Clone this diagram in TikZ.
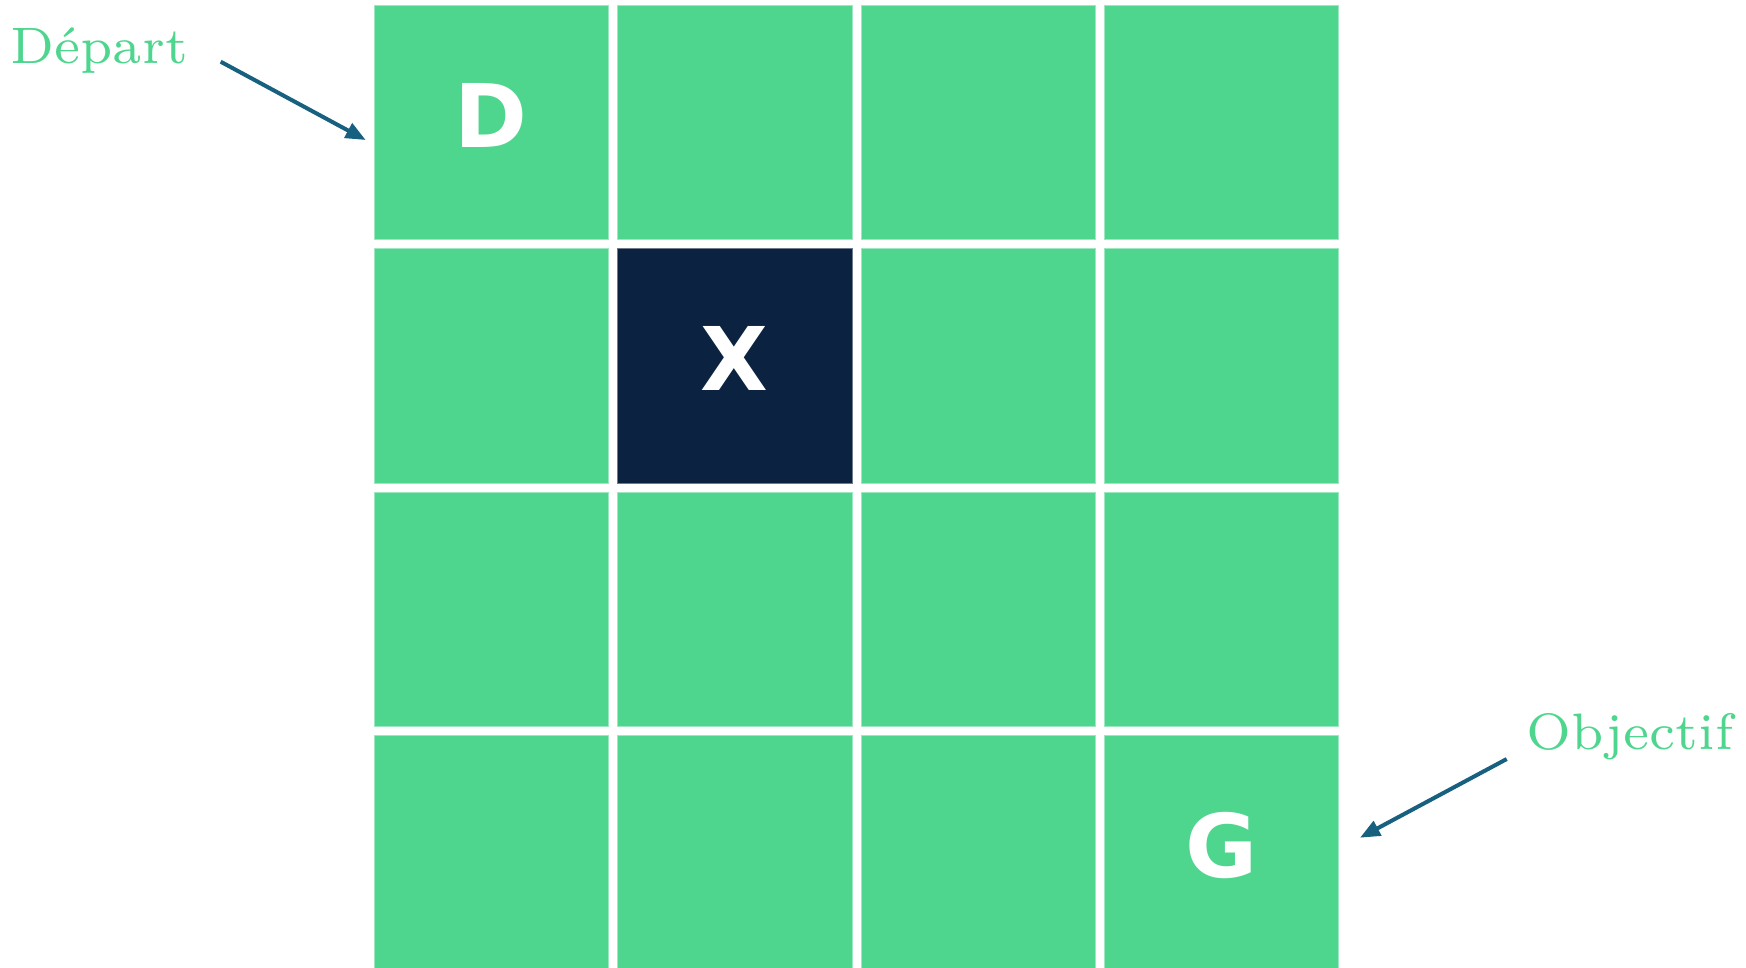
\documentclass[tikz,border=0pt]{standalone}
\usepackage{fontspec}
\newfontfamily\cellfont{DejaVu Sans}
\usepackage{tikz}
\usetikzlibrary{arrows.meta}

\definecolor{cellgreen}{HTML}{4FD68E}
\definecolor{wallnavy}{HTML}{0B2341}
\definecolor{arrowblue}{HTML}{17607F}

\begin{document}
\begin{tikzpicture}[
  x=0.02cm, y=-0.02cm,
  cell/.style   ={draw=cellgreen!55!white, line width=0.4pt, fill=cellgreen,
                  minimum size=4.69cm, inner sep=0pt, outer sep=0pt},
  wall/.style   ={cell, draw=wallnavy!60!white, fill=wallnavy},
  letter/.style ={text=white, font=\cellfont\bfseries\fontsize{50}{60}\selectfont,
                  yshift=0.14cm},
  lbl/.style    ={text=cellgreen, font=\fontsize{7}{8}\selectfont,
                  inner sep=0pt, scale=4.17, transform shape},
  arr/.style    ={-{Triangle[length=0.4cm, width=0.32cm]}, line width=0.08cm,
                  draw=arrowblue},
]
  \clip (0,0) rectangle (1746,967);

  % 4x4 grid
  \foreach \r in {0,...,3}
    \foreach \c in {0,...,3}
      \node[cell] (c-\r-\c) at ({491.3+243.4*\c}, {122.3+243.4*\r}) {};

  \node[wall]   (wall)  at (c-1-1) {};
  \node[letter] (start) at (c-0-0) {D};
  \node[letter] (block) at (wall)  {X};
  \node[letter] (goal)  at (c-3-3) {G};

  \node[lbl, anchor=base west] (depart)   at (9,63.3)  {Départ};
  \node[lbl, anchor=base west] (objectif) at (1525,749) {Objectif};

  \coordinate (depart-tail)   at (220.7,61.7);
  \coordinate (depart-tip)    at (365.7,140);
  \coordinate (objectif-tail) at (1506.7,759);
  \coordinate (objectif-tip)  at (1360,837.7);

  \draw[arr] (depart-tail)   -- (depart-tip);
  \draw[arr] (objectif-tail) -- (objectif-tip);
\end{tikzpicture}
\end{document}
